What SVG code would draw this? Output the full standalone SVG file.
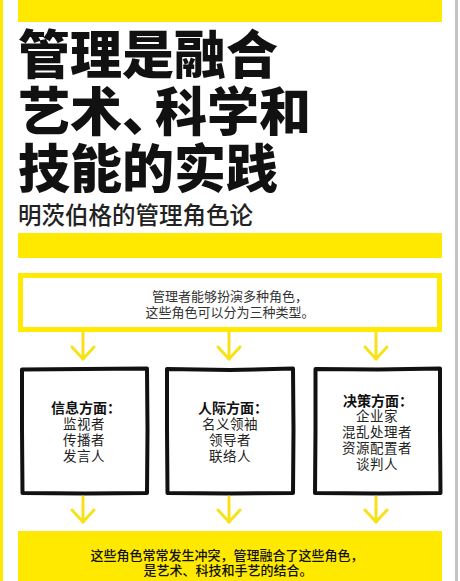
<svg xmlns="http://www.w3.org/2000/svg" width="460" height="581" viewBox="0 0 460 581">
  <defs>
    <style>
      .cjk { font-family: "Noto Sans CJK SC", "Noto Sans", sans-serif; }
      .title { font-size: 52px; font-weight: 900; fill: #111; }
      .sub { font-size: 23.5px; font-weight: 500; fill: #222; }
      .note { font-size: 13px; fill: #333; text-anchor: middle; }
      .head { font-size: 14px; font-weight: 700; fill: #111; text-anchor: middle; }
      .item { font-size: 13.5px; fill: #222; text-anchor: middle; letter-spacing: 0.5px; }
      .concl { font-size: 13px; font-weight: 500; fill: #111; text-anchor: middle; }
      .ybar { fill: #FFE900; }
      .ybox { fill: #fff; stroke: #FFEA00; stroke-width: 5; }
      .bbox { fill: #fff; stroke: #111; stroke-width: 4; stroke-linejoin: round; }
      .conn { fill: none; stroke: #F7E21A; stroke-width: 3; stroke-linecap: round; marker-end: url(#chev); }
    </style>
    <marker id="chev" markerUnits="userSpaceOnUse" viewBox="0 0 14 24" markerWidth="14" markerHeight="24" refX="13" refY="12" orient="auto" overflow="visible">
      <path d="M1,1 L13,12 L1,23" fill="none" stroke="#F7E21A" stroke-width="3" stroke-linecap="round" stroke-linejoin="round"/>
    </marker>
  </defs>

  <rect width="460" height="581" fill="#fff"/>
  <rect x="0" y="0" width="3" height="581" fill="#FFE900"/>
  <rect x="455" y="0" width="3" height="581" fill="#c4c4c4"/>

  <g id="header" class="cjk">
    <rect class="ybar" x="18" y="0" width="424" height="22"/>
    <text class="title" x="18" y="74">管理是融合</text>
    <text class="title" y="131"><tspan x="18">艺术、</tspan><tspan x="155">科学和</tspan></text>
    <text class="title" x="18" y="188">技能的实践</text>
    <text class="sub" x="18" y="224">明茨伯格的管理角色论</text>
    <rect class="ybar" x="18" y="233" width="424" height="25"/>
  </g>

  <g id="roles" class="cjk">
    <rect class="ybox" x="20.5" y="275.5" width="419" height="54"/>
    <text class="note" x="230" y="301">管理者能够扮演多种角色，</text>
    <text class="note" x="230" y="317">这些角色可以分为三种类型。</text>
  </g>

  <g id="info" class="cjk">
    <path class="bbox" d="M22,369.5 L85,369 L147,368.5 L147.5,430 L147,493 L85,493.5 L22.5,493 L22,430 Z"/>
    <text class="head" x="86" y="413">信息方面：</text>
    <text class="item" x="84" y="429">监视者</text>
    <text class="item" x="84" y="445">传播者</text>
    <text class="item" x="84" y="461">发言人</text>
  </g>

  <g id="interpersonal" class="cjk">
    <path class="bbox" d="M167,369 L230,370 L293,368.5 L293.5,430 L293,493 L230,493.5 L167.5,493 L167,430 Z"/>
    <text class="head" x="233" y="413">人际方面：</text>
    <text class="item" x="230" y="429">名义领袖</text>
    <text class="item" x="230" y="445">领导者</text>
    <text class="item" x="230" y="461">联络人</text>
  </g>

  <g id="decision" class="cjk">
    <path class="bbox" d="M315.5,369 L378,369.5 L440,368.5 L440,430 L440.5,493 L378,493.5 L315,493 L315.5,430 Z"/>
    <text class="head" x="378" y="406">决策方面：</text>
    <text class="item" x="377" y="421">企业家</text>
    <text class="item" x="377" y="437">混乱处理者</text>
    <text class="item" x="377" y="453">资源配置者</text>
    <text class="item" x="377" y="469">谈判人</text>
  </g>

  <g id="conclusion" class="cjk">
    <rect class="ybar" x="18" y="531" width="424" height="50"/>
    <text class="concl" x="227" y="560">这些角色常常发生冲突，管理融合了这些角色，</text>
    <text class="concl" x="228" y="575">是艺术、科技和手艺的结合。</text>
  </g>

  <g id="connectors">
    <line class="conn" x1="83" y1="333" x2="83" y2="359"/>
    <line class="conn" x1="229" y1="333" x2="229" y2="359"/>
    <line class="conn" x1="376" y1="333" x2="376" y2="359"/>
    <line class="conn" x1="83" y1="497" x2="83" y2="522"/>
    <line class="conn" x1="229" y1="497" x2="229" y2="522"/>
    <line class="conn" x1="376" y1="497" x2="376" y2="522"/>
  </g>
</svg>
